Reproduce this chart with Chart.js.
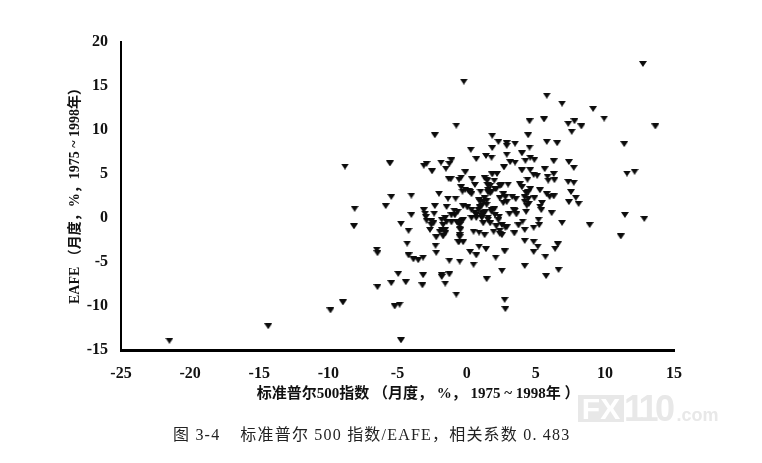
<!DOCTYPE html>
<html>
<head>
<meta charset="utf-8">
<script src="https://cdn.jsdelivr.net/npm/chart.js@4"></script>
<style>
    body { margin: 0; background: #fff; }
    #wrap { position: relative; width: 762px; height: 463px; overflow: hidden; }
    #caption { position: absolute; left: 173px; top: 421px; font: 16px "Liberation Serif", "Noto Sans CJK SC", serif; letter-spacing: 1.2px; color: #222; white-space: pre; }
    #caption span { margin-left: 20px; }
    #mark { position: absolute; left: 578px; top: 395px; height: 27px; font: bold 36px/27px "Liberation Sans", sans-serif; color: #e8e8e8; white-space: pre; }
    #mark .fx { display: inline-block; width: 46px; height: 27px; background: #e8e8e8; color: #fff; font-size: 30px; text-align: center; vertical-align: top; }
    #mark .num { letter-spacing: -3.5px; vertical-align: top; }
    #mark .dom { font-size: 18px; margin-left: 5px; }
</style>
</head>
<body>
<div id="wrap">
    <canvas id="chart" width="762" height="463"></canvas>
    <div id="mark"><span class="fx">FX</span><span class="num">110</span><span class="dom">.com</span></div>
    <div id="caption">图 3-4<span>标准普尔 500 指数/EAFE，相关系数 0. 483</span></div>
</div>
<script>
const xTicks = [-25, -20, -15, -10, -5, 0, 5, 10, 15];
const yTicks = [-15, -10, -5, 0, 5, 10, 15, 20];
const xTitle = '\u3000\u3000   标准普尔500指数 （月度， %， 1975 ~ 1998年 ）';
const yTitle = '  EAFE （月度，%，1975 ~ 1998年）';

// S&P 500 monthly return
const spReturns = [
    12.75, -0.2, 5.8, 6.9, 9.15, 9.95, 4.55, 5.6, 7.35, 7.8, 8.3, 7.6, 13.65, -0.75, -2.3, 1.85, 4.45, 2.3, 2.9, 2.9,
    3.5, 5.8, 6.55, 11.4, 0.3, 1.85, 4.55, 4.0, 2.9, 1.4, 1.8, 0.7, 4.6, 4.9, 4.25, 3.15, 3.5, 6.3, 7.4, -5.55,
    -2.9, -3.1, -1.85, -1.1, -1.25, -1.5, -2.5, 2.7, 5.65, 7.75, 4.0, 4.6, -0.1, 1.85, 2.2, 4.85, 5.1, 6.3, 5.85, 11.6,
    12.15, -1.3, -1.15, -0.4, -0.55, 0.4, 1.3, 1.45, 2.0, 4.4, 5.9, 6.35, 7.35, 7.75, 0.6, 3.85, 1.55, 3.0, 2.5, 4.0,
    4.6, 2.05, -0.4, -0.3, 0.15, 1.55, 5.3, 7.55, 0.35, -2.0, -4.0, -5.45, 5.8, 6.0, 6.3, 7.9, 2.65, 2.8, 2.9, 3.3,
    3.55, 4.2, 4.45, 4.9, 4.2, 4.5, -1.35, -0.8, 1.3, 1.0, 1.45, 1.1, 5.45, 5.3, 5.4, 7.4, 8.1, -5.85, -2.3, -1.45,
    -0.25, 0.05, 0.35, -3.1, -3.0, -2.95, -2.35, -4.0, -0.9, -0.65, -1.1, 0.6, 1.15, 1.8, 2.35, 2.3, 3.1, 3.5, 3.6, 4.3,
    6.15, 11.45, 12.85, -4.75, 8.9, 6.9, 5.2, 5.25, 4.05, -2.55, -1.45, -0.7, -0.35, 0.35, 0.7, 1.2, 1.7, 1.1, -1.7, -4.2,
    -2.65, -1.95, -1.55, -1.7, -0.45, -0.5, -0.55, -0.25, 0.5, 0.9, 1.3, 1.95, 2.4, 2.55, 2.9, 3.45, 3.75, 4.2, 4.85, 4.2,
    4.85, 5.15, 6.6, 6.4, 4.85, 5.7, 2.75, 2.1, 0.9, 1.4, 0.25, 0.7, 0.5, -0.5, -1.25, -2.25, -2.2, -4.3, -4.2, -3.85,
    -3.5, -3.15, -4.95, -3.15, -1.8, -1.25, -5.45, -4.4, -3.2, -1.55, -0.75, 1.45, 2.55, 4.2, 5.75, 6.65, 2.75, 2.8, -5.2, -4.85,
    -4.75, 11.15, -1.8, -21.5, -14.35, -9.85, -8.95, -6.45, -6.5, -6.45, -8.15, -8.8, -8.1, -2.4, -1.55, -0.5, -0.25, -0.5, -0.6, -2.2, -1.8, 1.45,
    0.85, 1.8, 1.2, 2.05, 1.55, 2.4, 2.65, 3.4, 1.5, 1.8, 1.0, 0.9, 1.7, 2.0,
    1.2, 0.95, 1.35, 0.7, 1.55, 1.7, 1.5, 2.15, 2.4, -0.1, 0.25, 4.3, 4.45, 4.35, -2.55, -0.5, -1.1, -1.8, -2.9, 2.55,
    2.15, -1.55, 2.4, 2.8, 1.1, 1.55, -0.6, -0.85
];

// EAFE monthly return
const eafeReturns = [
    17.5, 15.5, 13.9, 13.0, 12.4, 11.3, 11.0, 11.2, 10.7, 11.0, 10.4, 9.8, 10.4, 10.5, 9.4, 9.35, 9.4, 8.65, 8.5, 8.2,
    8.45, 8.65, 8.5, 8.4, 7.75, 7.95, 8.0, 7.35, 7.2, 7.05, 6.85, 6.7, 6.85, 6.6, 6.5, 6.35, 6.3, 6.45, 6.35, 6.2,
    6.15, 5.95, 6.3, 6.55, 6.15, 5.6, 5.3, 5.75, 5.55, 5.7, 5.4, 5.45, 5.2, 4.95, 5.0, 4.9, 4.8, 5.0, 4.7, 5.05,
    5.25, 4.45, 4.4, 4.6, 4.35, 4.4, 4.55, 4.35, 4.25, 4.35, 4.25, 4.3, 4.1, 4.0, 3.75, 3.85, 3.75, 3.8, 3.7, 3.5,
    3.3, 3.3, 3.5, 3.0, 3.05, 3.2, 3.15, 2.95, 2.7, 2.75, 2.55, 2.4, 2.7, 2.4, 2.45, 2.3, 2.7, 2.35, 1.8, 2.4,
    2.15, 2.35, 2.15, 2.25, 1.85, 1.6, 2.2, 2.2, 2.25, 1.85, 1.95, 1.4, 1.7, 1.3, 0.9, 1.8, 1.6, 1.35, 1.35, 1.25,
    1.35, 1.2, 0.9, 0.9, 0.5, 0.1, 0.5, 0.35, 0.85, 0.7, 0.3, 0.6, 0.45, 0.7, 0.15, -0.25, 0.45, 0.85, 0.4, 0.7,
    0.55, 0.35, -0.1, -0.65, -0.8, -0.55, -0.2, -0.8, -0.4, -0.35, -0.45, -0.5, -0.3, 0.0, 0.0, -0.6, -0.6, 0.0, -0.8, -1.45,
    -1.35, -1.55, -1.75, -2.1, -1.35, -1.95, -2.7, -2.75, -1.55, -1.65, -1.95, -1.55, -1.45, -1.95, -1.05, -1.75, -0.85, -1.35, -1.1, -2.6,
    -2.7, -3.25, -3.0, -3.5, -3.85, -4.4, -3.8, -4.5, -3.25, -3.55, -3.85, -4.25, -5.3, -4.95, -4.85, -3.15, -3.95, -2.9, -4.25, -4.7,
    -4.8, -4.5, -6.35, -6.5, -6.5, -6.4, -7.4, -7.3, -7.65, -7.45, -8.7, -6.95, -6.0, -5.45, -6.6, -5.9, -9.3, -10.35, -10.05, -9.85,
    -13.9, -2.1, -6.7, -13.95, -12.3, -10.5, -9.6, -7.85, -3.6, -4.0, -0.95, 5.85, 1.05, -0.6, 0.0, -1.2, -0.2, -2.2, -2.75, -2.2, -1.35, 1.5,
    0.9, 0.9, 0.55, 0.35, -0.2, 2.25, 1.7, 0.9, 3.8, 3.0, 3.0, 2.0, 2.8, 1.0,
    1.8, 1.2, 0.7, 0.35, 2.9, 3.65, 4.25, 3.3, 3.65, 3.2, 2.9, 2.85, 2.9, 1.4, -0.8, -0.8, -0.5, -0.2, -0.3, -0.8,
    -0.95, -1.35, -1.8, -1.1, 0.2, 0.05, -0.6, 0.3
];

const points = spReturns.map((x, i) => ({ x, y: eafeReturns[i] }));
const serif = '"Liberation Serif", "Noto Sans CJK SC", serif';

// flat downward triangle, same shape as the printed marker
function makeMarker() {
    const c = document.createElement('canvas');
    c.width = 8;
    c.height = 6;
    const ctx = c.getContext('2d');
    ctx.fillStyle = '#0c0c0c';
    ctx.beginPath();
    ctx.moveTo(0, 0);
    ctx.lineTo(8, 0);
    ctx.lineTo(4, 6);
    ctx.closePath();
    ctx.fill();
    return c;
}

new Chart(document.getElementById('chart'), {
    type: 'scatter',
    data: {
        datasets: [{
            data: points,
            pointStyle: makeMarker(),
            radius: 4
        }]
    },
    options: {
        responsive: false,
        animation: false,
        layout: { padding: { left: 63, right: 88, top: 42, bottom: 56 } },
        plugins: { legend: { display: false }, tooltip: { enabled: false } },
        scales: {
            x: {
                min: -25,
                max: 15,
                afterFit: (s) => { s.height = 57; },
                afterBuildTicks: (s) => { s.ticks = xTicks.map(value => ({ value })); },
                grid: { display: false, drawTicks: false },
                border: { color: '#000', width: 3 },
                ticks: { color: '#111', padding: 14, maxRotation: 0, font: { family: serif, size: 16, weight: 'bold' } },
                title: { display: true, text: xTitle, color: '#111', padding: { top: 2 }, font: { family: serif, size: 15, weight: 'bold' } }
            },
            y: {
                min: -15,
                max: 20,
                afterFit: (s) => { s.width = 58; },
                afterBuildTicks: (s) => { s.ticks = yTicks.map(value => ({ value })); },
                grid: { display: false, drawTicks: false },
                border: { color: '#000', width: 2 },
                ticks: { color: '#111', padding: 13, font: { family: serif, size: 16, weight: 'bold' } },
                title: { display: true, text: yTitle, color: '#111', padding: { bottom: 0 }, font: { family: serif, size: 14, weight: 'bold' } }
            }
        }
    }
});
</script>
</body>
</html>
